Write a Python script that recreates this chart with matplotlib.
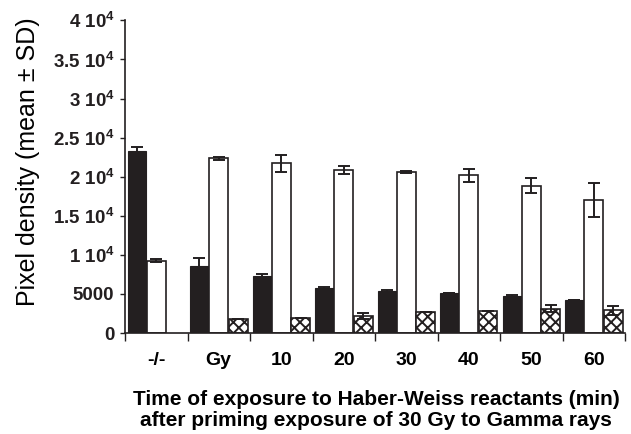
import matplotlib
matplotlib.use("Agg")
import matplotlib.pyplot as plt
import numpy as np

plt.rcParams['font.family'] = ['Liberation Sans', 'DejaVu Sans']
plt.rcParams['mathtext.fontset'] = 'custom'
plt.rcParams['mathtext.rm'] = 'Liberation Sans:bold'
plt.rcParams['mathtext.it'] = 'Liberation Sans:bold'
plt.rcParams['mathtext.bf'] = 'Liberation Sans:bold'
plt.rcParams['mathtext.default'] = 'rm'
plt.rcParams['hatch.linewidth'] = 1.4

categories = ["-/-", "Gy", "10", "20", "30", "40", "50", "60"]
black_vals = [23300, 8620, 7350, 5720, 5400, 5160, 4700, 4180]
black_err = [500, 990, 200, 200, 150, 0, 200, 0]
white_vals = [9260, 22350, 21700, 20870, 20650, 20180, 18870, 17050]
white_err = [200, 150, 1050, 550, 120, 800, 900, 2200]
hatch_vals = [np.nan, 1760, 1930, 2130, 2650, 2850, 3110, 2880]
hatch_err = [0, 0, 0, 400, 0, 0, 450, 550]
ytick_vals = [0, 5000, 10000, 15000, 20000, 25000, 30000, 35000, 40000]
ytick_labels = ["0", "5000", "1 10$^4$", "1.5 10$^4$", "2 10$^4$",
                "2.5 10$^4$", "3 10$^4$", "3.5 10$^4$", "4 10$^4$"]

dark = "#231f20"
fig = plt.figure(figsize=(6.31, 4.34), dpi=100)
ax = fig.add_axes([125/631, 101/434, 500/631, 312.6/434])

x = np.arange(len(categories)) + 0.5
w = 0.30
ekw = dict(elinewidth=1.4, capthick=1.4, ecolor=dark)
ax.bar(x - 0.31, black_vals, w, color=dark, edgecolor=dark, linewidth=0.8,
       yerr=black_err, capsize=4, error_kw=ekw, zorder=2)
ax.bar(x, white_vals, w, color="white", edgecolor=dark, linewidth=1.2,
       yerr=white_err, capsize=4, error_kw=ekw, zorder=2)
ax.bar(x + 0.31, hatch_vals, w, color="white", edgecolor=dark, linewidth=1.2,
       hatch="xxx", yerr=hatch_err, capsize=4, error_kw=ekw, zorder=2)

ax.set_xlim(0, 8)
ax.set_ylim(0, 40000)
ax.spines['top'].set_visible(False)
ax.spines['right'].set_visible(False)
for s in ('left', 'bottom'):
    ax.spines[s].set_linewidth(1.2)
    ax.spines[s].set_color(dark)

ax.set_yticks(ytick_vals)
ax.set_yticklabels(ytick_labels, fontsize=13.5, fontweight='bold')
ax.tick_params(axis='y', length=3.6, width=1, pad=4, colors=dark)

ax.set_xticks(np.arange(0, 9))
ax.set_xticklabels([])
ax.tick_params(axis='x', which='major', length=6, width=1, colors=dark)
ax.set_xticks(x, minor=True)
ax.set_xticklabels(categories, minor=True, fontsize=14, fontweight='bold')
ax.tick_params(axis='x', which='minor', length=0, pad=14)

ax.set_ylabel("Pixel density (mean ± SD)", fontsize=18)
ax.yaxis.set_label_coords(40/631, (434 - 162)/434, transform=fig.transFigure)

ax.set_xlabel("Time of exposure to Haber-Weiss reactants (min)\n"
              "after priming exposure of 30 Gy to Gamma rays",
              fontsize=15, fontweight='bold', linespacing=1.1)
ax.xaxis.set_label_coords(376/631, (434 - 390)/434, transform=fig.transFigure)

fig.savefig("out.png", dpi=100)
